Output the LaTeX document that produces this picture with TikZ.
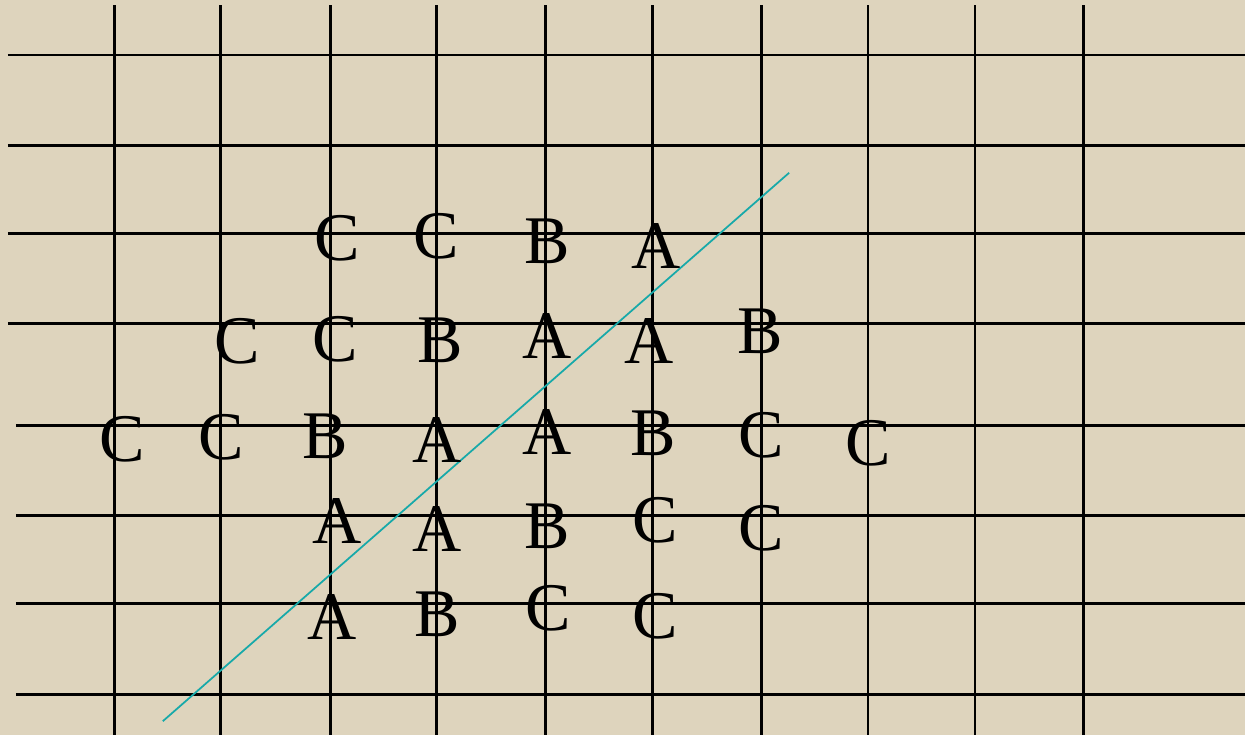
\documentclass[tikz,border=0pt]{standalone}
\usepackage{fontspec}
\setmainfont{Liberation Serif}
\definecolor{paper}{HTML}{DED4BD}
\definecolor{teal}{HTML}{17A9A9}

\begin{document}
\begin{tikzpicture}[x=0.01cm, y=-0.01cm,
    letter/.style={inner sep=0pt, font=\fontsize{19.4}{23}\selectfont}]
    % 背景
    \fill[paper] (0,0) rectangle (1246,736);

    % 竖线
    \foreach \x in {115,221,331,437,546,653,762,869,976,1085}
        \draw[line width=0.8pt] (\x,5) -- (\x,736);

    % 横线
    \foreach \y in {55,146,234,324}
        \draw[line width=0.8pt] (8,\y) -- (1246,\y);
    \foreach \y in {426,516,604,695}
        \draw[line width=0.8pt] (16,\y) -- (1246,\y);

    % 分界直线
    \coordinate (s) at (163,722);
    \coordinate (t) at (790,173);
    \draw[teal, line width=0.5pt] (s) -- (t);

    % 第一行
    \node[letter] (r1a) at (338,239) {C};
    \node[letter] (r1b) at (437,237) {C};
    \node[letter] (r1c) at (548,242) {B};
    \node[letter] (r1d) at (657,246) {A};

    % 第二行
    \node[letter] (r2a) at (237,342) {C};
    \node[letter] (r2b) at (336,340) {C};
    \node[letter] (r2c) at (441,341) {B};
    \node[letter] (r2d) at (548,336) {A};
    \node[letter] (r2e) at (650,341) {A};
    \node[letter] (r2f) at (761,332) {B};

    % 第三行
    \node[letter] (r3a) at (122,440) {C};
    \node[letter] (r3b) at (221,438) {C};
    \node[letter] (r3c) at (326,437) {B};
    \node[letter] (r3d) at (438,440) {A};
    \node[letter] (r3e) at (548,432) {A};
    \node[letter] (r3f) at (654,434) {B};
    \node[letter] (r3g) at (762,436) {C};
    \node[letter] (r3h) at (869,444) {C};

    % 第四行
    \node[letter] (r4a) at (337,522) {A};
    \node[letter] (r4b) at (438,530) {A};
    \node[letter] (r4c) at (548,527) {B};
    \node[letter] (r4d) at (656,521) {C};
    \node[letter] (r4e) at (762,529) {C};

    % 第五行
    \node[letter] (r5a) at (332,618) {A};
    \node[letter] (r5b) at (438,615) {B};
    \node[letter] (r5c) at (549,609) {C};
    \node[letter] (r5d) at (656,617) {C};
\end{tikzpicture}
\end{document}
